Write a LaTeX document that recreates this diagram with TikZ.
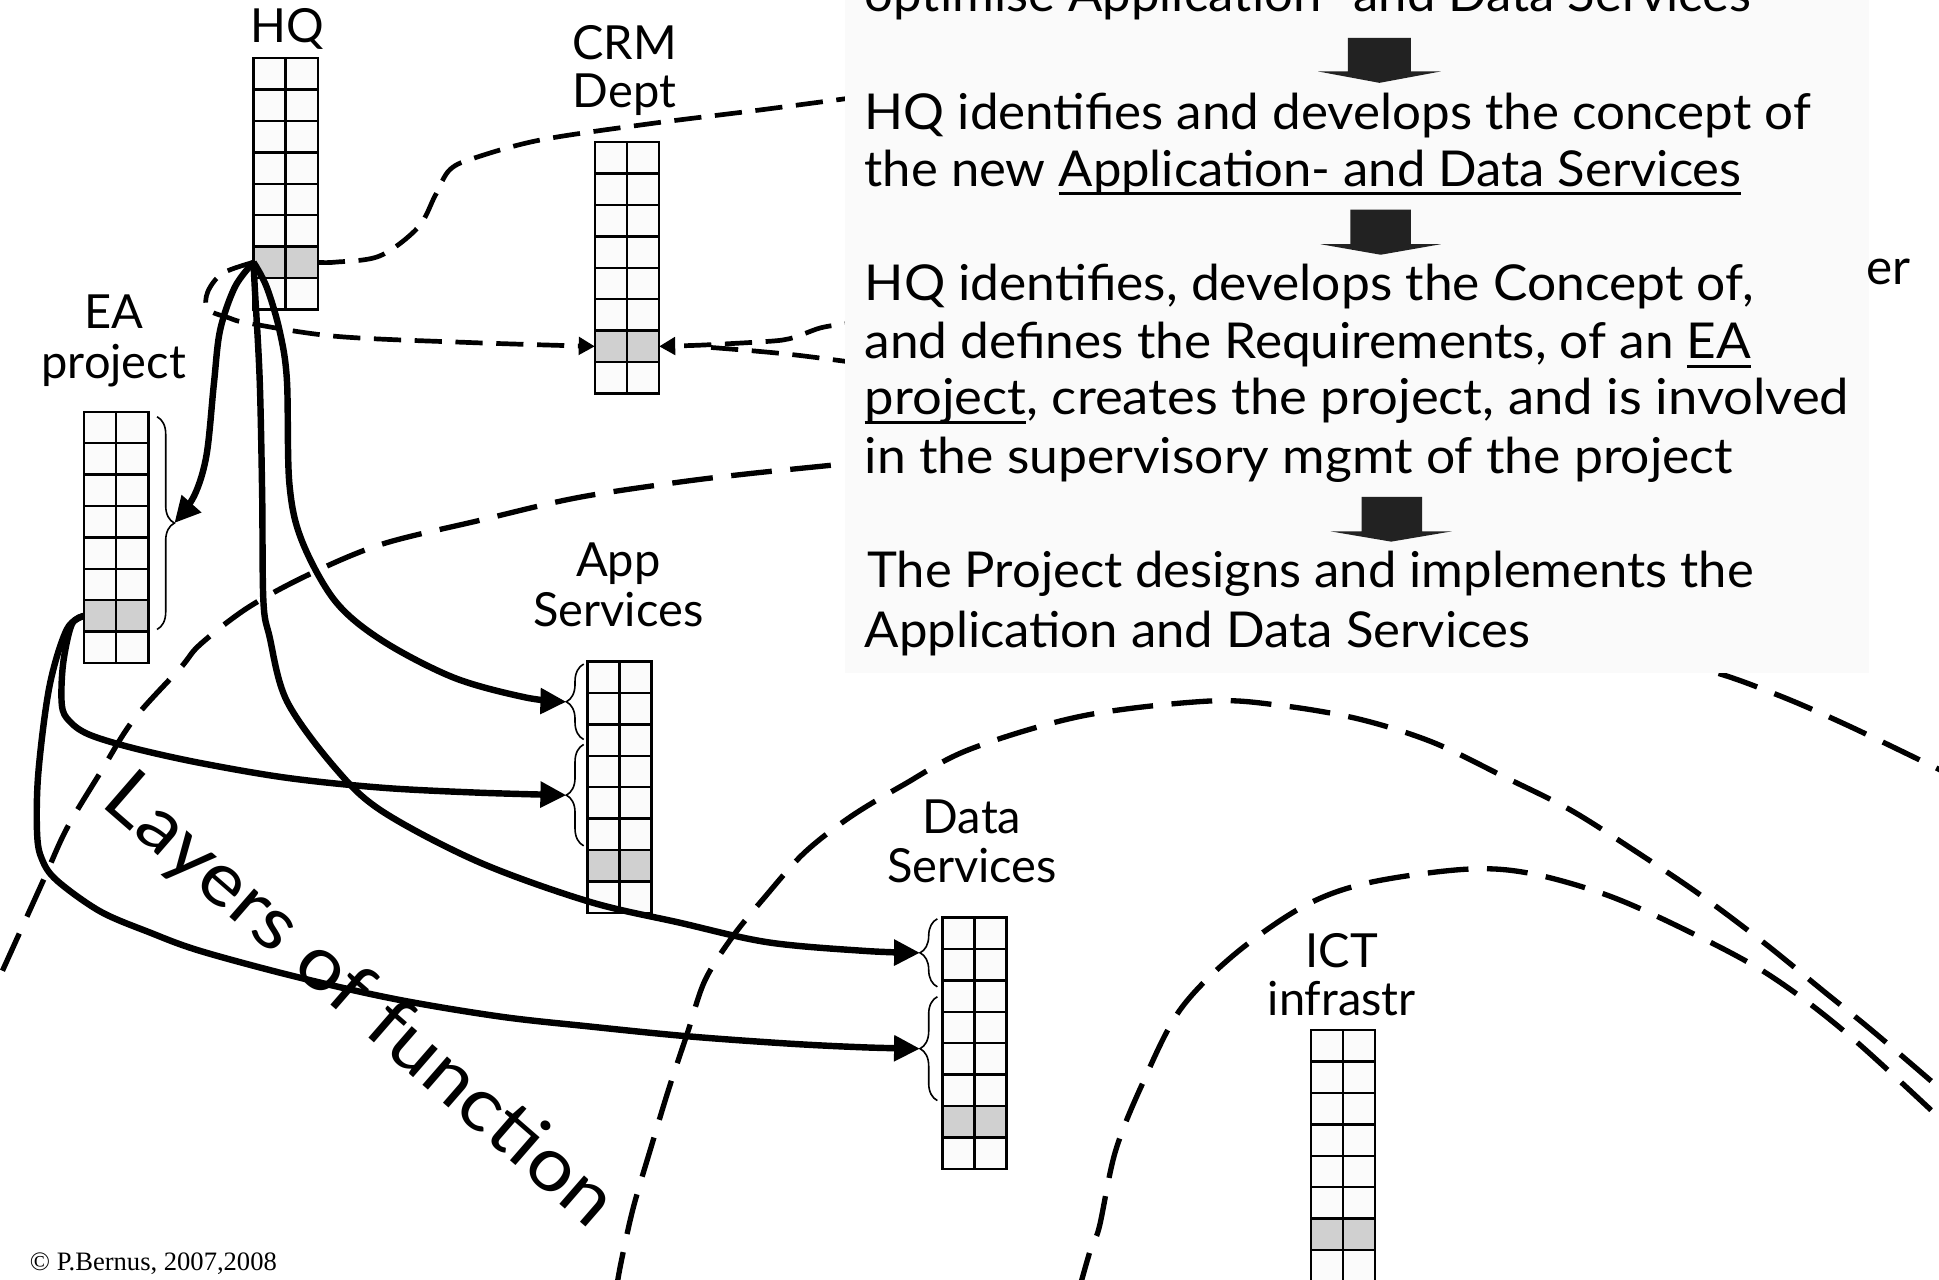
\documentclass[tikz,border=0pt]{standalone}
\usepackage{graphicx}
\usepackage{fontspec}
\setmainfont{Lato}
\newfontfamily\copyfont{Liberation Serif}
\usetikzlibrary{arrows.meta,decorations.pathreplacing}

\definecolor{cellfill}{HTML}{FBFBFB}
\definecolor{cellhot}{HTML}{D0D0D0}
\definecolor{notefill}{HTML}{FAFAFA}
\definecolor{blockarrow}{HTML}{222222}

% stretch a line of text horizontally to a given width
\newcommand{\fitto}[2]{\resizebox{#1}{\height}{#2}}
% underline that cuts through descenders
\newcommand{\ulword}[1]{\setbox0=\hbox{#1}\rlap{\rule[-7.5pt]{\wd0}{2.4pt}}\box0}

% a 2 x 8 stack of cells; the seventh row is shaded and named #1
\newcommand{\cellstack}[3]{%
  \foreach \r in {0,...,7}{%
    \foreach \c in {0,1}{%
      \node[cellbox] at ({#2+\c*26},{#3+\r*25.4}) {};
    }%
  }%
  \foreach \c in {0,1}{\node[cellbox,fill=cellhot] at ({#2+\c*26},{#3+6*25.4}) {};}%
  \node[hotrow] (#1) at ({#2},{#3+6*25.4}) {};
}

\begin{document}
\begin{tikzpicture}[x=1pt,y=-1pt,
  cellbox/.style={draw=black, line width=2pt, fill=cellfill, minimum width=26pt,
    minimum height=25.4pt, inner sep=0pt, outer sep=0pt, anchor=north west},
  hotrow/.style={minimum width=52pt, minimum height=25.4pt, inner sep=0pt,
    outer sep=0pt, anchor=north west},
  lbl/.style={anchor=base, inner sep=0pt, font=\fontsize{38}{44}\selectfont},
  note/.style={anchor=base west, inner sep=0pt, font=\fontsize{40}{46}\selectfont},
  flow/.style={line width=5.2pt, line join=round, -{Triangle[length=21pt,width=20pt]}},
  dashline/.style={line width=4.3pt, dash pattern=on 33pt off 15pt},
  thindash/.style={line width=3.8pt, dash pattern=on 22pt off 11pt},
  smalltip/.style={-{Triangle[length=13pt,width=14pt]}},
  bracestyle/.style={decorate, decoration={brace, amplitude=14pt}, line width=1.3pt},
]
\useasboundingbox (0,0) rectangle (1568,1035);
\clip (0,0) rectangle (1568,1035);
\fill[white] (0,0) rectangle (1568,1035);

% ---------- stacks ----------
\cellstack{hqg}{205}{47}
\cellstack{crmg}{481}{115}
\cellstack{eag}{68}{333}
\cellstack{appg}{475}{535}
\cellstack{datag}{762}{742}
\cellstack{ictg}{1060}{833}

% ---------- free ends of the dashed boundaries ----------
\coordinate (d1end) at (705,77);
\coordinate (d3start) at (705,259);
\coordinate (d4start) at (575,281);
\coordinate (d4end) at (705,295);
\coordinate (d5a) at (2,785);
\coordinate (d5b) at (705,373);
\coordinate (d6a) at (498,1045);
\coordinate (d6b) at (1580,890);
\coordinate (d7a) at (872,1045);
\coordinate (d7b) at (1580,915);
\coordinate (d8a) at (1250,510);
\coordinate (d8b) at (1580,628);

% ---------- dashed boundaries ----------
\draw[dashline] plot[smooth,tension=0.55] coordinates {(d5a) (35,712) (54,670) (81,625)
  (108,582) (146,540) (162,521) (201,491) (251,464) (309,440) (387,421) (464,403)
  (541,391) (606,383) (d5b)};
\draw[dashline] plot[smooth,tension=0.55] coordinates {(d6a) (502,1022) (512,977) (527,926)
  (541,880) (556,835) (570,793) (592,758) (618,726) (650,690) (687,661) (730,635)
  (784,606) (875,579) (976,567) (1032,570) (1097,581) (1158,600) (1218,629) (1270,655)
  (1322,688) (1374,723) (1426,762) (1474,801) (1517,836) (d6b)};
\draw[dashline] plot[smooth,tension=0.55] coordinates {(d7a) (882,1010) (889,992) (902,931)
  (924,876) (954,817) (998,772) (1054,733) (1106,714) (1184,703) (1236,706) (1300,724)
  (1365,753) (1430,788) (1495,837) (d7b)};
\draw[dashline] plot[smooth,tension=0.55] coordinates {(d8a) (1374,540) (1435,561)
  (1495,587) (d8b)};

% ---------- dashed links around HQ and CRM ----------
\draw[thindash] plot[smooth,tension=0.55] coordinates {(hqg.east) (271,212) (307,207)
  (338,184) (352,158) (364,137) (386,127) (438,113) (526,100) (614,89) (d1end)};
\draw[thindash,smalltip] plot[smooth,tension=0.55] coordinates {(hqg.west) (180,221)
  (168,236) (168,250) (185,257) (202,261.5) (272,272) (380,277) (crmg.west)};
\draw[thindash,smalltip] plot[smooth,tension=0.55] coordinates {(d3start) (682,262)
  (664,265) (650,270) (638,274) (622,276) (569,279) (crmg.east)};
\draw[thindash] plot[smooth,tension=0.55] coordinates {(d4start) (612,284) (647,287.5) (d4end)};

% ---------- process note ----------
\node[fill=notefill, minimum width=828pt, minimum height=555pt, inner sep=0pt,
  outer sep=0pt, anchor=north west] (notebox) at (683,-11) {};
\node[note] (n0) at (699,9) {\fitto{717pt}{optimise Application- and Data Services}};
\fill[blockarrow] (1090,30.6) -- (1141,30.6) -- (1141,57.8) -- (1165,57.8) -- (1115.5,67)
  -- (1066,57.8) -- (1090,57.8) -- cycle;
\node[note] (n1) at (699,105) {\fitto{765pt}{HQ identifies and develops the concept of}};
\node[note] (n2) at (699,150.5) {\fitto{709pt}{the new \ulword{Application- and Data Services}}};
\fill[blockarrow] (1092,169.6) -- (1141,169.6) -- (1141,197.5) -- (1165,197.5) -- (1116.5,206)
  -- (1068,197.5) -- (1092,197.5) -- cycle;
\node[note] (n3) at (699,243) {\fitto{719pt}{HQ identifies, develops the Concept of,}};
\node[note] (n4) at (699,290) {\fitto{717pt}{and defines the Requirements, of an \ulword{EA}}};
\node[note] (n5) at (699,335.5) {\fitto{796pt}{\ulword{project}, creates the project, and is involved}};
\node[note] (n6) at (699,382.5) {\fitto{702pt}{in the supervisory mgmt of the project}};
\fill[blockarrow] (1101,401.8) -- (1150,401.8) -- (1150,429.7) -- (1174,429.7) -- (1125,438)
  -- (1076,429.7) -- (1101,429.7) -- cycle;
\node[note] (n7) at (701,475) {\fitto{717pt}{The Project designs and implements the}};
\node[note] (n8) at (699,524) {\fitto{538pt}{Application and Data Services}};
\node[note] (er) at (1509,230) {er};

% ---------- stack labels ----------
\node[lbl] (hqlabel) at (232,34) {HQ};
\node[lbl] (crmlabel) at (505,48) {CRM};
\node[lbl] (crmlabelb) at (505,87) {Dept};
\node[lbl] (ealabel) at (92,266) {EA};
\node[lbl] (ealabelb) at (92,306) {project};
\node[lbl] (applabel) at (500,466) {App};
\node[lbl] (applabelb) at (500,507) {Services};
\node[lbl] (datalabel) at (786,674) {Data};
\node[lbl] (datalabelb) at (786,714) {Services};
\node[lbl] (ictlabel) at (1085,782) {ICT};
\node[lbl] (ictlabelb) at (1085,821) {infrastr};

% ---------- braces ----------
\draw[bracestyle] (127,337) -- (127,509);
\draw[bracestyle] (472,598) -- (472,537);
\draw[bracestyle] (472,684) -- (472,602);
\draw[bracestyle] (758,798) -- (758,743);
\draw[bracestyle] (758,890) -- (758,806);
\coordinate (eatip) at (141,423);
\coordinate (appup) at (458,567.5);
\coordinate (applow) at (458,643);
\coordinate (dataup) at (744,770.5);
\coordinate (datalow) at (744,848);

% ---------- creation links ----------
\draw[flow] plot[smooth,tension=0.55] coordinates {(hqg.west) (190,232) (178,267)
  (173,310) (167,368) (157,401) (eatip)};
\draw[flow] plot[smooth,tension=0.55] coordinates {(hqg.west) (215.6,232) (226,267)
  (232,307) (234,391) (244,437) (271,486) (309,518) (367,548) (425,564) (appup)};
\draw[flow] plot[smooth,tension=0.55] coordinates {(hqg.west) (206,232) (210,307)
  (212,400) (213,486) (218,515) (232,567) (271,621) (309,656) (387,697) (476,729)
  (549,746) (621,762) (700,769) (dataup)};
\draw[flow] plot[smooth,tension=0.55] coordinates {(eag.west) (58,505) (51,537)
  (50,570) (56,583) (72,594) (108,605) (162,617) (232,629) (309,637) (387,641) (applow)};
\draw[flow] plot[smooth,tension=0.55] coordinates {(eag.west) (54,509) (40,555)
  (31,625) (30,674) (34,695) (46,712) (81,737) (121,754) (162,769) (240,790) (320,808)
  (404,822) (476,830) (556,838) (639,844) (700,847) (datalow)};

% ---------- caption and credit ----------
\node[rotate=-41, inner sep=0pt, font=\fontsize{60}{66}\selectfont] (layers) at (290,810)
  {\fitto{525pt}{Layers of function}};
\node[anchor=base west, inner sep=0pt, font=\copyfont\fontsize{21.5}{25}\selectfont]
  (credit) at (24,1027) {© P.Bernus, 2007,2008};
\end{tikzpicture}
\end{document}
